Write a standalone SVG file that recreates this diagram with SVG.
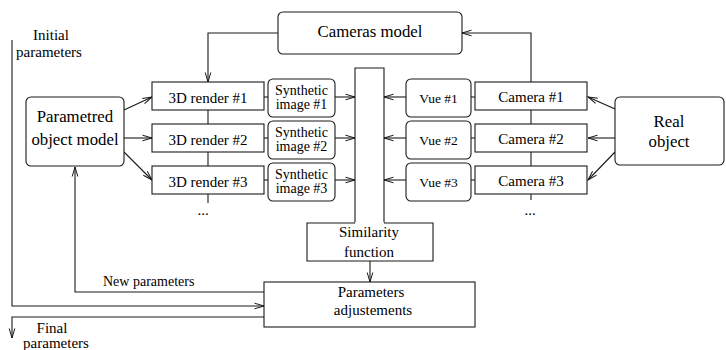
<svg xmlns="http://www.w3.org/2000/svg" width="726" height="350" viewBox="0 0 726 350" font-family="'Liberation Serif', 'DejaVu Serif', serif">
  <style>
    .box { fill: #fff; stroke: #1a1a1a; stroke-width: 1.1; }
    .ln { fill: none; stroke: #1a1a1a; stroke-width: 1.1; }
    .arr { marker-end: url(#ah); }
    text { fill: #000; text-anchor: middle; }
    .t15 { font-size: 15px; }
    .t17 { font-size: 16.8px; }
    .t14 { font-size: 14px; }
    .t13 { font-size: 13.5px; }
    .lft { text-anchor: start; }
  </style>
  <defs>
    <marker id="ah" markerWidth="11" markerHeight="8" refX="10" refY="4" orient="auto" markerUnits="userSpaceOnUse">
      <path d="M0.5,1.2 L10,4 L0.5,6.8" fill="none" stroke="#1a1a1a" stroke-width="1"/>
    </marker>
  </defs>

  <!-- connectors -->
  <g id="connectors">
    <!-- cameras model feeds the renderers -->
    <path class="ln" d="M278,33 H208 V82" marker-end="url(#ah)"/>
    <!-- camera chain feeds the cameras model -->
    <path class="ln" d="M531,82 V33 H462" marker-end="url(#ah)"/>
    <!-- renderer column -->
    <line class="ln" x1="208" y1="110" x2="208" y2="124"/>
    <line class="ln" x1="208" y1="152" x2="208" y2="166"/>
    <line class="ln" x1="208" y1="194" x2="208" y2="203"/>
    <!-- camera column -->
    <line class="ln" x1="531" y1="110" x2="531" y2="124"/>
    <line class="ln" x1="531" y1="152" x2="531" y2="166"/>
    <line class="ln" x1="531" y1="194" x2="531" y2="200"/>
    <!-- object model to renderers -->
    <line class="ln arr" x1="124" y1="110" x2="152" y2="97"/>
    <line class="ln arr" x1="124" y1="138" x2="152" y2="138"/>
    <line class="ln arr" x1="124" y1="152" x2="152" y2="180"/>
    <!-- real object to cameras -->
    <line class="ln arr" x1="615" y1="109" x2="588" y2="97"/>
    <line class="ln arr" x1="615" y1="138" x2="588" y2="138"/>
    <line class="ln arr" x1="615" y1="152" x2="588" y2="180"/>
    <!-- renderer to synthetic image links -->
    <line class="ln" x1="264" y1="97" x2="268" y2="97"/>
    <line class="ln" x1="264" y1="138" x2="268" y2="138"/>
    <line class="ln" x1="264" y1="180" x2="268" y2="180"/>
    <!-- vue to camera links -->
    <line class="ln" x1="471" y1="97" x2="475" y2="97"/>
    <line class="ln" x1="471" y1="138" x2="475" y2="138"/>
    <line class="ln" x1="471" y1="180" x2="475" y2="180"/>
    <!-- images into the similarity column -->
    <line class="ln arr" x1="335" y1="97" x2="355" y2="97"/>
    <line class="ln arr" x1="335" y1="138" x2="355" y2="138"/>
    <line class="ln arr" x1="335" y1="180" x2="355" y2="180"/>
    <line class="ln arr" x1="406" y1="97" x2="384" y2="97"/>
    <line class="ln arr" x1="406" y1="138" x2="384" y2="138"/>
    <line class="ln arr" x1="406" y1="180" x2="384" y2="180"/>
    <!-- similarity to adjustments -->
    <line class="ln arr" x1="370" y1="261" x2="370" y2="282"/>
    <!-- new parameters loop -->
    <path class="ln" d="M264,292 H75 V167" marker-end="url(#ah)"/>
    <!-- initial parameters input -->
    <path class="ln" d="M12,40 V306 H264" marker-end="url(#ah)"/>
    <!-- final parameters output -->
    <path class="ln" d="M264,317 H12 V338" marker-end="url(#ah)"/>
  </g>

  <g id="cameras-model">
    <rect class="box" x="278" y="12" width="184" height="42" rx="5"/>
    <text class="t17" x="370" y="37">Cameras model</text>
  </g>

  <g id="object-model">
    <rect class="box" x="26" y="97" width="98" height="69" rx="5"/>
    <text class="t17" x="75" y="121.5">Parametred</text>
    <text class="t17" x="75" y="144.5">object model</text>
  </g>

  <g id="real-object">
    <rect class="box" x="615" y="97" width="109" height="68" rx="5"/>
    <text class="t17" x="669" y="126.5">Real</text>
    <text class="t17" x="669" y="147">object</text>
  </g>

  <g id="render-1">
    <rect class="box" x="152" y="82" width="112" height="28"/>
    <text class="t15" x="208" y="103">3D render #1</text>
  </g>
  <g id="render-2">
    <rect class="box" x="152" y="124" width="112" height="28"/>
    <text class="t15" x="208" y="145">3D render #2</text>
  </g>
  <g id="render-3">
    <rect class="box" x="152" y="166" width="112" height="28"/>
    <text class="t15" x="208" y="187">3D render #3</text>
  </g>
  <g id="render-more">
    <text class="t15" x="203" y="215">...</text>
  </g>

  <g id="synthetic-1">
    <rect class="box" x="268" y="79" width="67" height="38" rx="5"/>
    <text class="t14" x="301.5" y="95">Synthetic</text>
    <text class="t14" x="301.5" y="108.5">image #1</text>
  </g>
  <g id="synthetic-2">
    <rect class="box" x="268" y="121" width="67" height="38" rx="5"/>
    <text class="t14" x="301.5" y="137">Synthetic</text>
    <text class="t14" x="301.5" y="150.5">image #2</text>
  </g>
  <g id="synthetic-3">
    <rect class="box" x="268" y="163" width="67" height="38" rx="5"/>
    <text class="t14" x="301.5" y="179">Synthetic</text>
    <text class="t14" x="301.5" y="192.5">image #3</text>
  </g>

  <g id="vue-1">
    <rect class="box" x="406" y="79" width="65" height="38" rx="5"/>
    <text class="t13" x="438.5" y="103">Vue #1</text>
  </g>
  <g id="vue-2">
    <rect class="box" x="406" y="121" width="65" height="38" rx="5"/>
    <text class="t13" x="438.5" y="145">Vue #2</text>
  </g>
  <g id="vue-3">
    <rect class="box" x="406" y="163" width="65" height="38" rx="5"/>
    <text class="t13" x="438.5" y="187">Vue #3</text>
  </g>

  <g id="camera-1">
    <rect class="box" x="475" y="82" width="112" height="28"/>
    <text class="t15" x="531" y="102">Camera #1</text>
  </g>
  <g id="camera-2">
    <rect class="box" x="475" y="124" width="112" height="28"/>
    <text class="t15" x="531" y="144">Camera #2</text>
  </g>
  <g id="camera-3">
    <rect class="box" x="475" y="166" width="112" height="28"/>
    <text class="t15" x="531" y="186">Camera #3</text>
  </g>
  <g id="camera-more">
    <text class="t15" x="530" y="215">...</text>
  </g>

  <!-- similarity function: open column on top of the box -->
  <g id="similarity">
    <path class="box" d="M355,223 V68 H384 V223 H433 V261 H307 V223 Z"/>
    <path d="M355,223 H384" fill="none" stroke="#fff" stroke-width="1.6"/>
    <text class="t15" x="369" y="237">Similarity</text>
    <text class="t15" x="369" y="256.5">function</text>
  </g>

  <g id="adjustments">
    <rect class="box" x="264" y="282" width="211" height="45"/>
    <text class="t15" x="371" y="296.5">Parameters</text>
    <text class="t15" x="373" y="315">adjustements</text>
  </g>

  <g id="labels">
    <text class="t15" x="51" y="40">Initial</text>
    <text class="t15" x="49" y="56.5">parameters</text>
    <text class="t14 lft" x="103" y="286">New parameters</text>
    <text class="t15" x="52" y="333">Final</text>
    <text class="t15" x="56" y="347.5">parameters</text>
  </g>
</svg>
